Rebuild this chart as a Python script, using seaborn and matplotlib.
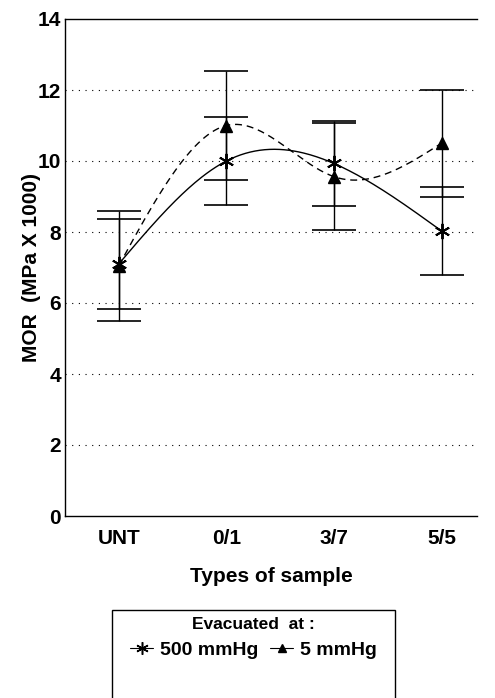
import numpy as np
import pandas as pd
import matplotlib
matplotlib.use("Agg")
import matplotlib.pyplot as plt
import seaborn as sns
from matplotlib.patches import Rectangle
from matplotlib.lines import Line2D

# ---- data ----
categories = ["UNT", "0/1", "3/7", "5/5"]
mor_500 = [7.1, 10.0, 9.93, 8.03]
err_500 = [1.28, 1.25, 1.2, 1.25]
mor_5 = [7.05, 11.0, 9.56, 10.5]
err_5 = [1.55, 1.53, 1.5, 1.5]
yticks = [0, 2, 4, 6, 8, 10, 12, 14]
series_labels = ["500 mmHg", "5 mmHg"]


def natural_spline(x, y, xs):
    x = np.asarray(x, float)
    y = np.asarray(y, float)
    n = len(x)
    h = np.diff(x)
    A = np.zeros((n, n))
    b = np.zeros(n)
    A[0, 0] = 1
    A[-1, -1] = 1
    for i in range(1, n - 1):
        A[i, i - 1] = h[i - 1]
        A[i, i] = 2 * (h[i - 1] + h[i])
        A[i, i + 1] = h[i]
        b[i] = 6 * ((y[i + 1] - y[i]) / h[i] - (y[i] - y[i - 1]) / h[i - 1])
    M = np.linalg.solve(A, b)
    out = np.empty_like(xs)
    for k, t in enumerate(xs):
        i = min(max(np.searchsorted(x, t) - 1, 0), n - 2)
        a = x[i + 1] - t
        c = t - x[i]
        out[k] = (M[i] * a ** 3 + M[i + 1] * c ** 3) / (6 * h[i]) \
            + (y[i] / h[i] - M[i] * h[i] / 6) * a \
            + (y[i + 1] / h[i] - M[i + 1] * h[i] / 6) * c
    return out


sns.set_style("white")
plt.rcParams["font.family"] = ["Liberation Sans", "DejaVu Sans"]
plt.rcParams["text.color"] = "black"
plt.rcParams["axes.labelcolor"] = "black"
plt.rcParams["xtick.color"] = "black"
plt.rcParams["ytick.color"] = "black"

fig = plt.figure(figsize=(4.95, 6.98), dpi=100)
ax = fig.add_axes([65 / 495, 1 - 516 / 698, (477 - 65) / 495, (516 - 19) / 698])

xpos = np.arange(len(categories))
xs = np.linspace(0, len(categories) - 1, 200)

df_curve = pd.DataFrame({
    "x": np.concatenate([xs, xs]),
    "y": np.concatenate([natural_spline(xpos, mor_500, xs),
                         natural_spline(xpos, mor_5, xs)]),
    "series": [series_labels[0]] * len(xs) + [series_labels[1]] * len(xs),
})
sns.lineplot(data=df_curve, x="x", y="y", style="series",
             dashes={series_labels[0]: "", series_labels[1]: (5, 3.5)},
             color="black", linewidth=1.0, legend=False, ax=ax, sort=False,
             estimator=None)

cap = 16
ax.errorbar(xpos, mor_500, yerr=err_500, fmt="none", ecolor="black",
            elinewidth=1.0, capsize=cap, capthick=1.2, zorder=3)
ax.errorbar(xpos, mor_5, yerr=err_5, fmt="none", ecolor="black",
            elinewidth=1.0, capsize=cap, capthick=1.2, zorder=3)

star = (6, 2, 0)
ax.plot(xpos, mor_500, linestyle="none", marker=star, markersize=11,
        markeredgecolor="black", markeredgewidth=1.4, color="black", zorder=4)
ax.plot(xpos, mor_5, linestyle="none", marker="^", markersize=8,
        color="black", zorder=4)

ax.set_xlim(-0.5, 3.33)
ax.set_ylim(0, 14)
ax.set_yticks(yticks)
ax.set_xticks(xpos)
ax.set_xticklabels(categories)
for v in yticks[1:-1]:
    ax.axhline(v, color="black", linewidth=0.8, linestyle=(0, (1, 5)), zorder=1)

for s in ["left", "bottom", "top"]:
    ax.spines[s].set_visible(True)
    ax.spines[s].set_color("black")
    ax.spines[s].set_linewidth(1.0)
ax.spines["right"].set_visible(False)

ax.tick_params(axis="both", length=0, labelsize=15, colors="black")
ax.tick_params(axis="y", pad=3)
ax.tick_params(axis="x", pad=9)
for lab in ax.get_xticklabels() + ax.get_yticklabels():
    lab.set_fontweight("bold")

ax.set_xlabel("Types of sample", fontsize=15, fontweight="bold", labelpad=14,
              color="black")
ax.set_ylabel("MOR  (MPa X 1000)", fontsize=15, fontweight="bold", color="black")
ax.yaxis.set_label_coords((32 - 65) / 412, 0.5)
ax.yaxis.label.set_va("center")

# legend box
fig.patches.append(Rectangle((112 / 495, -0.02), (395 - 112) / 495, 1 - 610 / 698 + 0.02,
                             transform=fig.transFigure, fill=False,
                             edgecolor="black", linewidth=1.0))
handles = [
    Line2D([], [], color="black", linewidth=0.8, marker=star, markersize=9,
           markeredgewidth=1.1),
    Line2D([], [], color="black", linewidth=0.8, marker="^", markersize=6),
]
leg = fig.legend(handles, series_labels, loc="center", ncol=2,
                 bbox_to_anchor=(253.5 / 495, 1 - 638 / 698), frameon=False,
                 title="Evacuated  at :", handlelength=1.2, handletextpad=0.35,
                 columnspacing=0.6, prop={"size": 14, "weight": "bold"},
                 title_fontproperties={"size": 12.5, "weight": "bold"},
                 labelspacing=0.3, borderpad=0.2, labelcolor="black")
leg.get_title().set_color("black")
leg._legend_box.sep = 7

fig.savefig("out.png", dpi=100)
